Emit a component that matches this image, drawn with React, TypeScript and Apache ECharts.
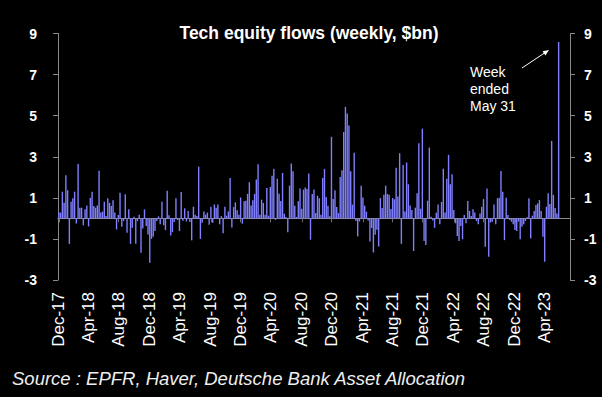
import React, { useEffect, useRef } from "react";
import * as echarts from "echarts";

// Weekly tech equity fund flows ($bn), week ending Wednesday, Dec 6 2017 .. May 31 2023
const START_WEEK = "2017-12-06";
const flows2018a = [0.3, 0.28, 1.3, 0.76, 2.1, 1.37, -1.24, 0.81, 0.98, 1.3, -0.25, 2.65, 0.52, 0.52, -0.34, 0.44, 0.63, -0.39, 1.0, 1.3, 0.6, 0.52, 0.63, 2.32, 0.28, 0.33, 0.81, 0.11, 0.98, 0.76, 0.6, 0.88, 0.28, -0.54, 0.16, 1.25, -0.41, -0.13, 1.17, -0.7, 0.44, -1.24, -0.46, 0.08, -1.24, -0.13, 0.18, -1.67];
const flows2019a = [-0.49, 0.44, -0.37, -0.78, -2.16, -1.0, -0.9, -0.62, -0.13, 0.1, -0.29, 0.81, -0.34, -0.57, 1.35, 0.15, -0.83, -0.67, -0.18, 0.98, -0.08, -0.62, 1.28, -0.11, 0.49, -0.15, 0.36, -0.18, -1.07, 0.57, 0.18, 0.11, 2.52, -1.0, -0.21, 0.34, 0.18, 0.28, -0.31, 0.57, -0.21, 0.68, 0.52, 0.68, -0.29, 0.11, -0.73, 0.57];
const flows2020a = [0.13, 0.34, 1.97, -0.44, 0.55, 0.78, 0.39, 0.18, 1.02, -0.26, 0.83, 0.86, 1.19, 1.76, 0.63, 0.88, 1.19, 1.89, 2.63, 0.18, 0.91, 0.75, 0.18, 1.48, 0.13, 1.53, 2.08, 2.42, -0.07, 1.93, 1.2, 0.85, 2.21, 0.23, 0.07, -0.68, 1.59, 2.67, 2.29, 0.62, 0.07, 0.83, 1.45, 0.47, 1.4, 1.5, 1.43, 2.18];
const flows2021a = [-1.04, 1.19, 1.4, 0.26, 1.1, 0.98, 0.18, 1.97, 2.41, 1.04, 0.62, 0.1, 3.97, 0.94, 1.37, 0.55, 0.26, 2.02, 2.34, 4.2, 5.43, 5.1, 4.52, 2.29, 0.67, 3.19, -0.13, -0.88, -0.15, 1.59, 1.02, 0.62, 0.33, -0.1, -1.12, -0.47, -1.66, -0.8, -0.55, -1.37, 0.99, 0.5, 1.15, 1.59, 1.19, 1.15, 0.46, 0.99];
const flows2022a = [0.93, 2.47, 1.06, 3.17, -1.24, 2.6, 0.33, 2.72, 1.66, 0.63, 0.41, -1.59, 0.52, 1.22, 3.66, 0.47, 4.37, -1.1, -1.3, 0.86, 3.45, 0.08, -0.1, -0.46, 0.28, 0.68, -0.29, 0.8, 2.42, 0.28, 1.93, 3.09, 1.66, 2.15, 0.41, -0.24, -0.86, -1.1, -0.37, -1.02, 0.16, -0.24, 0.85, 0.36, 0.11, 0.44, 0.28];
const flows2023a = [-0.13, -0.29, 0.24, 0.57, 0.94, -1.38, 1.46, -1.87, -0.2, -0.16, 0.68, -0.29, 0.98, 1.01, 2.31, 1.3, -1.06, 1.01, 0.16, -0.08, -0.16, -0.29, -0.57, -0.62, -0.16, -1.02, -0.41, -0.29, -0.13, 0.05, 0.98, -0.98, 0.13, 0.36, 0.65, 0.73, 0.89, 0.36, -0.89, -2.11, 0.57, 1.22, 0.7, 3.77, 1.14, 0.5, 0.24, 8.59];

const flows = [...flows2018a, ...flows2019a, ...flows2020a, ...flows2021a, ...flows2022a, ...flows2023a];
const PAD_WEEKS = 6;
const LABEL_MONTHS = [12, 4, 8];
const MONTH_NAMES = ["Jan", "Feb", "Mar", "Apr", "May", "Jun", "Jul", "Aug", "Sep", "Oct", "Nov", "Dec"];
const Y_MIN = -3;
const Y_MAX = 9;
const Y_STEP = 2;

const TITLE = "Tech equity flows (weekly, $bn)";
const SOURCE = "Source : EPFR, Haver, Deutsche Bank Asset Allocation";
const NOTE = "Week\nended\nMay 31";

function buildWeeks(): string[] {
  const out: string[] = [];
  const start = new Date(START_WEEK + "T00:00:00Z").getTime();
  for (let i = 0; i < flows.length; i++) {
    const d = new Date(start + i * 7 * 86400000);
    out.push(d.toISOString().slice(0, 10));
  }
  for (let i = 0; i < PAD_WEEKS; i++) out.push("pad" + i);
  return out;
}

const weeks = buildWeeks();

function isLabelWeek(_idx: number, value: string): boolean {
  if (!value || value.startsWith("pad")) return false;
  const m = parseInt(value.slice(5, 7), 10);
  const d = parseInt(value.slice(8, 10), 10);
  return LABEL_MONTHS.includes(m) && d <= 7;
}

function fmtLabel(value: string): string {
  if (!value || value.startsWith("pad")) return "";
  const m = parseInt(value.slice(5, 7), 10);
  return MONTH_NAMES[m - 1] + "-" + value.slice(2, 4);
}

const FONT = "Arial, 'Liberation Sans', sans-serif";

export default function App() {
  const ref = useRef<HTMLDivElement>(null);
  useEffect(() => {
    if (!ref.current) return;
    const chart = echarts.init(ref.current, undefined, { renderer: "svg" });
    const yAxisCommon = {
      type: "value" as const,
      min: Y_MIN,
      max: Y_MAX,
      interval: Y_STEP,
      splitLine: { show: false },
      axisLine: { show: true, lineStyle: { color: "#8a8a8a", width: 1 } },
      axisTick: { show: true, length: 5, lineStyle: { color: "#8a8a8a" } },
    };
    chart.setOption({
      animation: false,
      backgroundColor: "#000000",
      grid: { left: 58, right: 32, top: 33.5, bottom: 117, containLabel: false },
      xAxis: [
        {
          type: "category",
          data: weeks,
          position: "bottom",
          axisLine: { show: true, onZero: true, lineStyle: { color: "#8a8a8a", width: 1.2 } },
          axisTick: { show: true, alignWithLabel: true, interval: isLabelWeek, length: 4, lineStyle: { color: "#6a6a6a" } },
          axisLabel: { show: false },
          splitLine: { show: false },
        },
        {
          type: "category",
          data: weeks,
          position: "bottom",
          axisLine: { show: false, onZero: false },
          axisTick: { show: false },
          axisLabel: {
            show: true,
            interval: isLabelWeek,
            rotate: 90,
            margin: 12,
            color: "#ffffff",
            fontSize: 17,
            fontFamily: FONT,
            formatter: fmtLabel,
          },
          splitLine: { show: false },
        },
      ],
      yAxis: [
        {
          ...yAxisCommon,
          position: "left",
          axisLabel: { color: "#ffffff", fontSize: 14, fontWeight: "bold", fontFamily: FONT, margin: 21 },
        },
        {
          ...yAxisCommon,
          position: "right",
          axisLabel: { color: "#ffffff", fontSize: 14, fontWeight: "bold", fontFamily: FONT, margin: 14 },
        },
      ],
      series: [
        {
          type: "bar",
          data: flows,
          xAxisIndex: 0,
          yAxisIndex: 0,
          barCategoryGap: "20%",
          itemStyle: { color: "#7f7fff" },
        },
      ],
      graphic: [
        {
          type: "text",
          x: 309,
          y: 33,
          style: {
            text: TITLE,
            fill: "#ffffff",
            font: "bold 17.5px " + FONT,
            textAlign: "center",
            textVerticalAlign: "middle",
          },
        },
        {
          type: "text",
          x: 12,
          y: 378,
          style: {
            text: SOURCE,
            fill: "#eeeeee",
            font: "italic 18.5px " + FONT,
            textAlign: "left",
            textVerticalAlign: "middle",
          },
        },
        {
          type: "text",
          x: 470,
          y: 63,
          style: {
            text: NOTE,
            fill: "#ffffff",
            font: "14px " + FONT,
            lineHeight: 17,
            textAlign: "left",
            textVerticalAlign: "top",
          },
        },
        {
          type: "line",
          shape: { x1: 522, y1: 68, x2: 547, y2: 51.3 },
          style: { stroke: "#ffffff", lineWidth: 1 },
        },
        {
          type: "polygon",
          shape: { points: [[549, 50], [545.4, 55.4], [542.6, 51.2]] },
          style: { fill: "#ffffff" },
        },
      ],
    });
    return () => chart.dispose();
  }, []);
  return (
    <div
      ref={ref}
      style={{ position: "fixed", left: 0, top: 0, width: 602, height: 397, background: "#000" }}
    />
  );
}
